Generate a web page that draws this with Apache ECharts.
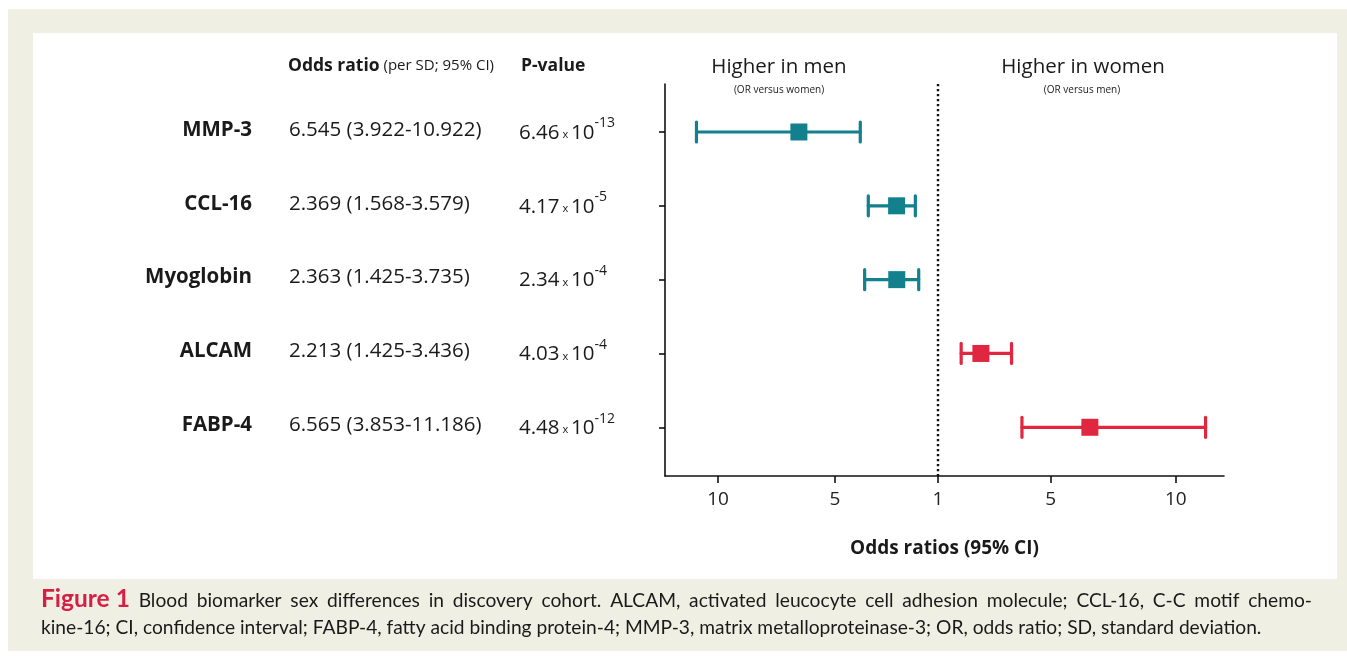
<!DOCTYPE html>
<html><head><meta charset="utf-8">
<script src="https://cdn.jsdelivr.net/npm/echarts@6/dist/echarts.min.js"></script>
<style>html,body{margin:0;padding:0;background:#fff}#c{width:1347px;height:656px}</style>
</head><body><div id="c"></div>
<script>
// ---- data ----
const markers = ['MMP-3', 'CCL-16', 'Myoglobin', 'ALCAM', 'FABP-4'];
const oddsRatio = [6.545, 2.369, 2.363, 2.213, 6.565];
const ciLow = [3.922, 1.568, 1.425, 1.425, 3.853];
const ciHigh = [10.922, 3.579, 3.735, 3.436, 11.186];
const higherIn = ['men', 'men', 'men', 'women', 'women'];
const pMantissa = ['6.46', '4.17', '2.34', '4.03', '4.48'];
const pExponent = ['-13', '-5', '-4', '-4', '-12'];
const tickORs = [10, 5, 1, 5, 10];
const tickSide = ['men', 'men', 'mid', 'women', 'women'];
const captionLabel = 'Figure 1';
const captionLine1 = 'Blood biomarker sex differences in discovery cohort. ALCAM, activated leucocyte cell adhesion molecule; CCL-16, C-C motif chemo-';
const captionLine2 = 'kine-16; CI, confidence interval; FABP-4, fatty acid binding protein-4; MMP-3, matrix metalloproteinase-3; OR, odds ratio; SD, standard deviation.';

// ---- mirrored odds-ratio axis transform (men to the left, women to the right) ----
const GAP_L = 0.4, GAP_R = 0.5, SCALE_R = 1.07;
function toAxis(or, s) {
  if (s === 'mid') return 0;
  return s === 'men' ? -(or - 1 + GAP_L) : (or - 1 + GAP_R) * SCALE_R;
}
const tickPos = tickORs.map((v, i) => toAxis(v, tickSide[i]));
const TEAL = '#12808d', RED = '#e1263f';
const FONT = 'Open Sans';
const CAPFONT = 'Lato';
const INK = '#1a1a1a';

const ciData = markers.map((m, i) => [
  toAxis(ciLow[i], higherIn[i]), toAxis(ciHigh[i], higherIn[i]), toAxis(oddsRatio[i], higherIn[i]), i
]);
const rowData = markers.map((m, i) => [0, i]);

// ---- justified first caption line ----
const CAP_X0 = 41, CAP_X1 = 1312, CAP_FS = 19.2, FIG_FS = 24.5;
const mctx = document.createElement('canvas').getContext('2d');
mctx.font = 'bold ' + FIG_FS + 'px ' + CAPFONT;
const figW = mctx.measureText(captionLabel).width;
mctx.font = CAP_FS + 'px ' + CAPFONT;
const capWords = captionLine1.split(' ');
const capWW = capWords.map(w => mctx.measureText(w).width);
const capGap = (CAP_X1 - CAP_X0 - figW - capWW.reduce((a, b) => a + b, 0)) / capWords.length;
const captionGraphics = [{type: 'text', x: CAP_X0, y: 599, style: {text: captionLabel, fontFamily: CAPFONT, fontSize: FIG_FS, fontWeight: 'bold', fill: '#d61f45', verticalAlign: 'middle'}}];
let cx = CAP_X0 + figW + capGap;
capWords.forEach((w, k) => {
  captionGraphics.push({type: 'text', x: cx, y: 601, style: {text: w, fontFamily: CAPFONT, fontSize: CAP_FS, fill: INK, verticalAlign: 'middle'}});
  cx += capWW[k] + capGap;
});
captionGraphics.push({type: 'text', x: CAP_X0, y: 628, style: {text: captionLine2, fontFamily: CAPFONT, fontSize: CAP_FS, fill: INK, verticalAlign: 'middle'}});

const chart = echarts.init(document.getElementById('c'), null, {renderer: 'canvas'});
chart.setOption({
  animation: false,
  textStyle: {fontFamily: FONT},
  grid: {left: 665, right: 123, top: 84, bottom: 180},
  xAxis: {
    type: 'value', min: -11.667, max: 12.222,
    axisLine: {show: true, onZero: false, lineStyle: {color: '#111', width: 1.6}},
    axisTick: {show: true, customValues: tickPos, length: 7, lineStyle: {color: '#111', width: 1.6}},
    axisLabel: {
      customValues: tickPos, margin: 14, color: '#222', fontSize: 19, fontFamily: FONT,
      formatter: v => { let k = tickPos.findIndex(p => Math.abs(p - v) < 1e-6); return k < 0 ? '' : String(tickORs[k]); }
    },
    splitLine: {show: false},
    name: 'Odds ratios (95% CI)', nameLocation: 'middle', nameGap: 63,
    nameTextStyle: {fontSize: 19, fontWeight: 'bold', color: INK, fontFamily: FONT}
  },
  yAxis: {
    type: 'value', inverse: true, min: -0.65, max: 4.66,
    axisLine: {show: true, onZero: false, lineStyle: {color: '#111', width: 1.6}},
    axisTick: {show: true, customValues: [0, 1, 2, 3, 4], length: 6, lineStyle: {color: '#111', width: 1.6}},
    axisLabel: {show: false},
    splitLine: {show: false}
  },
  graphic: [
    {type: 'rect', z: -10, silent: true, shape: {x: 8, y: 9, width: 1339, height: 642}, style: {fill: '#efefe4'}},
    {type: 'rect', z: -9, silent: true, shape: {x: 33, y: 33, width: 1304, height: 546}, style: {fill: '#ffffff'}},
    {type: 'text', x: 288, y: 66, style: {
      text: '{b|Odds ratio}{s| (per SD; 95% CI)}', verticalAlign: 'middle',
      rich: {b: {fontFamily: FONT, fontSize: 17.5, fontWeight: 'bold', fill: INK}, s: {fontFamily: FONT, fontSize: 15, fill: INK}}
    }},
    {type: 'text', x: 521, y: 66, style: {text: 'P-value', fontFamily: FONT, fontSize: 17.5, fontWeight: 'bold', fill: INK, verticalAlign: 'middle'}},
    {type: 'text', x: 779, y: 67, style: {text: 'Higher in men', fontFamily: FONT, fontSize: 20.5, fill: INK, align: 'center', verticalAlign: 'middle'}},
    {type: 'text', x: 779, y: 90, style: {text: '(OR versus women)', fontFamily: FONT, fontSize: 10, fill: INK, align: 'center', verticalAlign: 'middle'}},
    {type: 'text', x: 1083, y: 67, style: {text: 'Higher in women', fontFamily: FONT, fontSize: 20.5, fill: INK, align: 'center', verticalAlign: 'middle'}},
    {type: 'text', x: 1082, y: 90, style: {text: '(OR versus men)', fontFamily: FONT, fontSize: 10, fill: INK, align: 'center', verticalAlign: 'middle'}}
  ].concat(captionGraphics),
  series: [
    {
      type: 'custom', name: 'ci', data: ciData, encode: {x: [0, 1, 2], y: 3}, clip: false,
      renderItem: (params, api) => {
        const i = api.value(3);
        const color = higherIn[i] === 'men' ? TEAL : RED;
        const a = api.coord([api.value(0), i]);
        const b = api.coord([api.value(1), i]);
        const c = api.coord([api.value(2), i]);
        const capH = 10, sq = 17;
        const st = {stroke: color, lineWidth: 3.2, lineCap: 'round'};
        return {type: 'group', children: [
          {type: 'line', shape: {x1: a[0], y1: a[1], x2: b[0], y2: b[1]}, style: st},
          {type: 'line', shape: {x1: a[0], y1: a[1] - capH, x2: a[0], y2: a[1] + capH}, style: st},
          {type: 'line', shape: {x1: b[0], y1: b[1] - capH, x2: b[0], y2: b[1] + capH}, style: st},
          {type: 'rect', shape: {x: c[0] - sq / 2, y: c[1] - sq / 2, width: sq, height: sq}, style: {fill: color}}
        ]};
      },
      markLine: {
        silent: true, symbol: 'none', label: {show: false},
        lineStyle: {type: [2.2, 2.8], color: '#111', width: 2.4},
        data: [{xAxis: 0}]
      }
    },
    {
      type: 'custom', name: 'table', data: rowData, encode: {x: 0, y: 1}, clip: false,
      renderItem: (params, api) => {
        const i = api.value(1);
        const y = api.coord([0, i])[1] - 2;
        return {type: 'group', children: [
          {type: 'text', x: 252, y: y, style: {text: markers[i], fontFamily: FONT, fontSize: 20.5, fontWeight: 'bold', fill: INK, align: 'right', verticalAlign: 'middle'}},
          {type: 'text', x: 289, y: y, style: {text: oddsRatio[i].toFixed(3) + ' (' + ciLow[i].toFixed(3) + '-' + ciHigh[i].toFixed(3) + ')', fontFamily: FONT, fontSize: 20.5, fill: INK, verticalAlign: 'middle'}},
          {type: 'text', x: 519, y: y, style: {
            text: '{n|' + pMantissa[i] + '}{x| x }{n|10}{s|' + pExponent[i] + '}', verticalAlign: 'middle',
            rich: {
              n: {fontFamily: FONT, fontSize: 20.5, fill: INK, lineHeight: 27, verticalAlign: 'bottom'},
              x: {fontFamily: FONT, fontSize: 11, fill: INK, lineHeight: 27, verticalAlign: 'bottom', padding: [0, 0, 3, 0]},
              s: {fontFamily: FONT, fontSize: 14, fill: INK, lineHeight: 14, verticalAlign: 'top'}
            }
          }}
        ]};
      }
    }
  ]
});
</script></body></html>
